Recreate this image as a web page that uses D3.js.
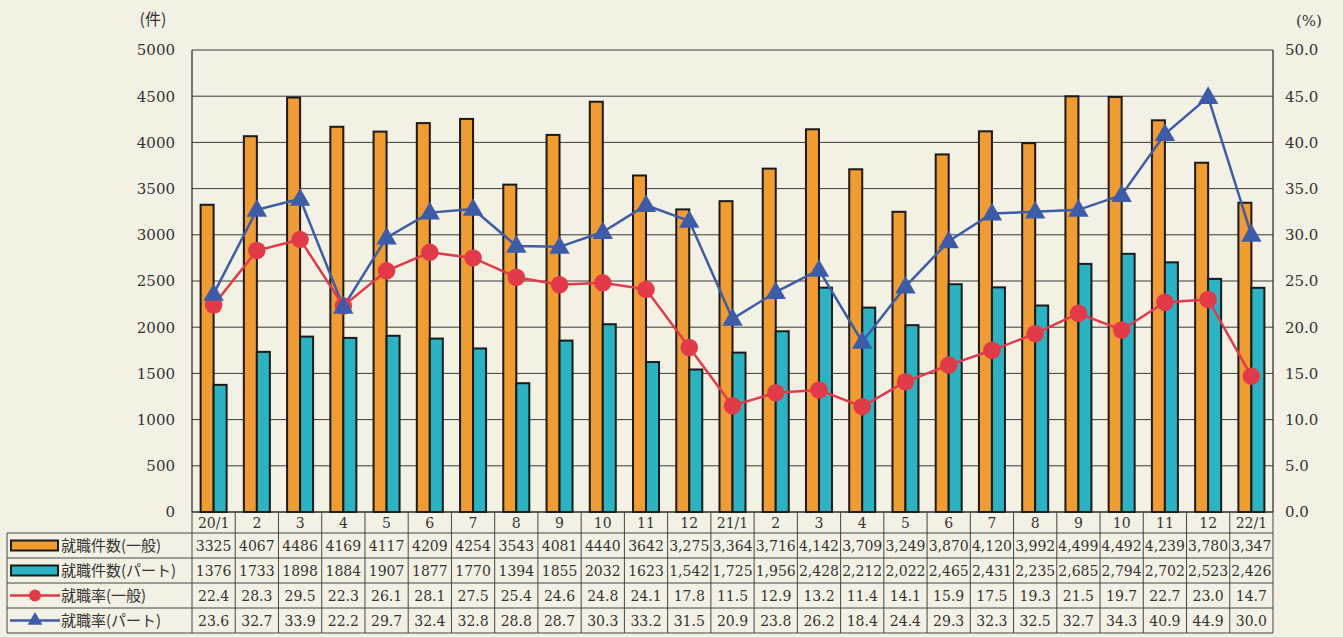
<!DOCTYPE html>
<html>
<head>
<meta charset="utf-8">
<script src="https://cdn.jsdelivr.net/npm/d3@7"></script>
<style>
  body { margin: 0; background: #f3f1e4; }
  svg { display: block; }
</style>
</head>
<body>
<div id="chart"></div>
<script>
// Month labels (table header)
const months = ["20/1","2","3","4","5","6","7","8","9","10","11","12",
                "21/1","2","3","4","5","6","7","8","9","10","11","12","22/1"];

// 就職件数 (一般) / (パート)
const jobsGeneral = [3325,4067,4486,4169,4117,4209,4254,3543,4081,4440,3642,3275,
                     3364,3716,4142,3709,3249,3870,4120,3992,4499,4492,4239,3780,3347];
const jobsPart = [1376,1733,1898,1884,1907,1877,1770,1394,1855,2032,1623,1542,
                  1725,1956,2428,2212,2022,2465,2431,2235,2685,2794,2702,2523,2426];

// 就職率 (一般) / (パート), %
const rateGeneral = [22.4,28.3,29.5,22.3,26.1,28.1,27.5,25.4,24.6,24.8,24.1,17.8,
                     11.5,12.9,13.2,11.4,14.1,15.9,17.5,19.3,21.5,19.7,22.7,23.0,14.7];
const ratePart = [23.6,32.7,33.9,22.2,29.7,32.4,32.8,28.8,28.7,30.3,33.2,31.5,
                  20.9,23.8,26.2,18.4,24.4,29.3,32.3,32.5,32.7,34.3,40.9,44.9,30.0];

const leftTicks = [0,500,1000,1500,2000,2500,3000,3500,4000,4500,5000];
const rightTicks = [0,5,10,15,20,25,30,35,40,45,50];
const seriesNames = ["就職件数(一般)","就職件数(パート)","就職率(一般)","就職率(パート)"];

const colors = {
  general: "#f09c30",
  part: "#2ab3c3",
  rateGen: "#e23a48",
  ratePart: "#3c5caa"
};

const W = 1343, H = 637;
const plot = {left: 192, right: 1273, top: 50, bottom: 512};
const serif = "'DejaVu Serif', 'Noto Sans CJK JP', serif";
const jp = "'Noto Sans CJK JP', sans-serif";

const svg = d3.select("#chart").append("svg")
    .attr("width", W)
    .attr("height", H);

// Scales
const x = d3.scaleBand()
    .domain(d3.range(months.length))
    .range([plot.left, plot.right])
    .padding(0);

const yLeft = d3.scaleLinear().domain([0, 5000]).range([plot.bottom, plot.top]);
const yRight = d3.scaleLinear().domain([0, 50]).range([plot.bottom, plot.top]);

// Gridlines
svg.append("g")
  .selectAll("line")
  .data(leftTicks)
  .join("line")
    .attr("x1", plot.left)
    .attr("x2", plot.right)
    .attr("y1", d => yLeft(d))
    .attr("y2", d => yLeft(d))
    .attr("stroke", "#3a3a3a")
    .attr("stroke-width", 1);

// Plot frame sides
svg.append("line")
    .attr("x1", plot.left).attr("x2", plot.left)
    .attr("y1", plot.top).attr("y2", plot.bottom)
    .attr("stroke", "#222").attr("stroke-width", 1.2);
svg.append("line")
    .attr("x1", plot.right).attr("x2", plot.right)
    .attr("y1", plot.top).attr("y2", plot.bottom)
    .attr("stroke", "#222").attr("stroke-width", 1.2);

// Left axis
const leftAxis = svg.append("g")
    .attr("transform", `translate(${plot.left},0)`)
    .call(d3.axisLeft(yLeft).tickValues(leftTicks).tickSize(0).tickPadding(17).tickFormat(d3.format("d")));
leftAxis.select(".domain").remove();
leftAxis.selectAll("text")
    .attr("font-family", serif)
    .attr("font-size", 15)
    .attr("fill", "#333");

// Right axis
const rightAxis = svg.append("g")
    .attr("transform", `translate(${plot.right},0)`)
    .call(d3.axisRight(yRight).tickValues(rightTicks).tickSize(0).tickPadding(12).tickFormat(d3.format(".1f")));
rightAxis.select(".domain").remove();
rightAxis.selectAll("text")
    .attr("font-family", serif)
    .attr("font-size", 15)
    .attr("fill", "#333");

// Units
svg.append("text")
    .attr("x", 153).attr("y", 25)
    .attr("text-anchor", "middle")
    .attr("font-family", jp)
    .attr("font-size", 16)
    .attr("fill", "#333")
    .text("(件)");
svg.append("text")
    .attr("x", 1309).attr("y", 26)
    .attr("text-anchor", "middle")
    .attr("font-family", serif)
    .attr("font-size", 15)
    .attr("fill", "#333")
    .text("(%)");

// Bars
const barW = 13;
svg.append("g")
  .selectAll("rect")
  .data(jobsGeneral)
  .join("rect")
    .attr("x", (d, i) => x(i) + x.bandwidth() / 2 - barW)
    .attr("y", d => yLeft(d))
    .attr("width", barW)
    .attr("height", d => plot.bottom - yLeft(d))
    .attr("fill", colors.general)
    .attr("stroke", "#1a1a1a")
    .attr("stroke-width", 2);

svg.append("g")
  .selectAll("rect")
  .data(jobsPart)
  .join("rect")
    .attr("x", (d, i) => x(i) + x.bandwidth() / 2)
    .attr("y", d => yLeft(d))
    .attr("width", barW)
    .attr("height", d => plot.bottom - yLeft(d))
    .attr("fill", colors.part)
    .attr("stroke", "#1a1a1a")
    .attr("stroke-width", 2);

// Lines
const cx = i => x(i) + x.bandwidth() / 2;
const line = d3.line()
    .x((d, i) => cx(i))
    .y(d => yRight(d));

svg.append("path")
    .datum(ratePart)
    .attr("fill", "none")
    .attr("stroke", colors.ratePart)
    .attr("stroke-width", 2.5)
    .attr("d", line);

svg.append("path")
    .datum(rateGeneral)
    .attr("fill", "none")
    .attr("stroke", colors.rateGen)
    .attr("stroke-width", 2.5)
    .attr("d", line);

const tri = d3.symbol().type(d3.symbolTriangle).size(180);
const circ = d3.symbol().type(d3.symbolCircle).size(240);

svg.append("g")
  .selectAll("path")
  .data(rateGeneral)
  .join("path")
    .attr("d", circ)
    .attr("transform", (d, i) => `translate(${cx(i)},${yRight(d)})`)
    .attr("fill", colors.rateGen);

svg.append("g")
  .selectAll("path")
  .data(ratePart)
  .join("path")
    .attr("d", tri)
    .attr("transform", (d, i) => `translate(${cx(i)},${yRight(d) + 1})`)
    .attr("fill", colors.ratePart);

// Data table
const rowY = [512, 533, 558, 583, 608, 633];
const tableLeft = 7;
const table = svg.append("g");

// horizontal lines
table.append("line")
    .attr("x1", plot.left).attr("x2", plot.right)
    .attr("y1", rowY[0]).attr("y2", rowY[0])
    .attr("stroke", "#222").attr("stroke-width", 1.2);
rowY.slice(1).forEach(y => {
  table.append("line")
      .attr("x1", tableLeft).attr("x2", plot.right)
      .attr("y1", y).attr("y2", y)
      .attr("stroke", "#444").attr("stroke-width", 1);
});

// vertical lines
table.selectAll(".vcol")
  .data(d3.range(months.length + 1))
  .join("line")
    .attr("x1", i => plot.left + i * x.bandwidth())
    .attr("x2", i => plot.left + i * x.bandwidth())
    .attr("y1", rowY[0])
    .attr("y2", rowY[5])
    .attr("stroke", "#444")
    .attr("stroke-width", 1);
table.append("line")
    .attr("x1", tableLeft).attr("x2", tableLeft)
    .attr("y1", rowY[1]).attr("y2", rowY[5])
    .attr("stroke", "#444").attr("stroke-width", 1);

// header labels
table.selectAll(".hdr")
  .data(months)
  .join("text")
    .attr("x", (d, i) => cx(i))
    .attr("y", (rowY[0] + rowY[1]) / 2 + 5)
    .attr("text-anchor", "middle")
    .attr("font-family", serif)
    .attr("font-size", 14)
    .attr("fill", "#333")
    .text(d => d);

const fmtCount = (d, i) => i < 11 ? String(d) : d3.format(",")(d);
const fmtRate = d => d.toFixed(1);
const rows = [
  jobsGeneral.map(fmtCount),
  jobsPart.map(fmtCount),
  rateGeneral.map(fmtRate),
  ratePart.map(fmtRate)
];

rows.forEach((vals, r) => {
  const yMid = (rowY[r + 1] + rowY[r + 2]) / 2;
  table.append("g")
    .selectAll("text")
    .data(vals)
    .join("text")
      .attr("x", (d, i) => cx(i))
      .attr("y", yMid + 5)
      .attr("text-anchor", "middle")
      .attr("font-family", serif)
      .attr("font-size", 14)
      .attr("fill", "#333")
      .text(d => d);
});

// Legend cells
const legTri = d3.symbol().type(d3.symbolTriangle).size(95);
const legCirc = d3.symbol().type(d3.symbolCircle).size(110);
seriesNames.forEach((name, r) => {
  const yMid = (rowY[r + 1] + rowY[r + 2]) / 2;
  if (r < 2) {
    table.append("rect")
        .attr("x", 11).attr("y", yMid - 5)
        .attr("width", 47).attr("height", 10)
        .attr("fill", r === 0 ? colors.general : colors.part)
        .attr("stroke", "#1a1a1a")
        .attr("stroke-width", 2);
  } else {
    const c = r === 2 ? colors.rateGen : colors.ratePart;
    table.append("line")
        .attr("x1", 10).attr("x2", 60)
        .attr("y1", yMid).attr("y2", yMid)
        .attr("stroke", c).attr("stroke-width", 2.5);
    table.append("path")
        .attr("d", r === 2 ? legCirc : legTri)
        .attr("transform", `translate(35,${yMid})`)
        .attr("fill", c);
  }
  table.append("text")
      .attr("x", 61)
      .attr("y", yMid + 5)
      .attr("font-family", jp)
      .attr("font-size", 15)
      .attr("fill", "#333")
      .text(name);
});
</script>
</body>
</html>
